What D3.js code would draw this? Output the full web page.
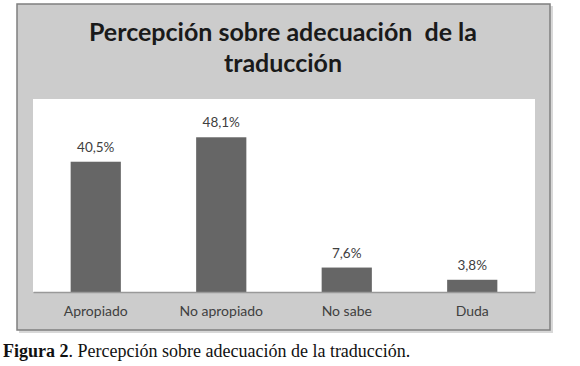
<!DOCTYPE html>
<html>
<head>
<meta charset="utf-8">
<script src="https://cdn.jsdelivr.net/npm/d3@7"></script>
<style>
  body { margin: 0; background: #fff; }
  svg { display: block; }
</style>
</head>
<body>
<div id="chart_area"></div>
<script>
var categories = ["Apropiado", "No apropiado", "No sabe", "Duda"];
var values = [40.5, 48.1, 7.6, 3.8];
var valueLabels = ["40,5%", "48,1%", "7,6%", "3,8%"];
var titleLines = ["Percepción sobre adecuación  de la", "traducción"];

var W = 580, H = 366;
var plot = { left: 33, right: 535, top: 99, bottom: 292 };

var svg = d3.select("#chart_area")
    .append("svg")
    .attr("width", W)
    .attr("height", H);

// shadow + outer box
svg.append("rect")
    .attr("x", 19).attr("y", 6)
    .attr("width", 534).attr("height", 327)
    .attr("fill", "#d8d8d8");
svg.append("rect")
    .attr("x", 17).attr("y", 4)
    .attr("width", 533).attr("height", 326)
    .attr("fill", "#cccccc")
    .attr("stroke", "#7f7f7f")
    .attr("stroke-width", 1.5);

// plot area
svg.append("rect")
    .attr("x", plot.left).attr("y", plot.top)
    .attr("width", plot.right - plot.left)
    .attr("height", plot.bottom - plot.top)
    .attr("fill", "#ffffff");

// title
svg.selectAll(".title")
    .data(titleLines)
    .enter()
    .append("text")
    .attr("class", "title")
    .attr("x", 283)
    .attr("y", function (d, i) { return 41 + i * 31; })
    .attr("text-anchor", "middle")
    .style("font-family", "Lato, 'Open Sans', sans-serif")
    .style("font-weight", "bold")
    .style("font-size", "25px")
    .style("fill", "#1a1a1a")
    .style("white-space", "pre")
    .text(function (d) { return d; });

var x = d3.scaleBand()
    .range([plot.left, plot.right])
    .domain(categories)
    .paddingInner(0.6)
    .paddingOuter(0.3);

var y = d3.scaleLinear()
    .domain([0, 60])
    .range([plot.bottom, plot.top]);

// bars
svg.selectAll(".bar")
    .data(values)
    .enter()
    .append("rect")
    .attr("class", "bar")
    .attr("x", function (d, i) { return x(categories[i]); })
    .attr("y", function (d) { return y(d); })
    .attr("width", x.bandwidth())
    .attr("height", function (d) { return y(0) - y(d); })
    .attr("fill", "#666666");

// value labels
svg.selectAll(".vlabel")
    .data(values)
    .enter()
    .append("text")
    .attr("class", "vlabel")
    .attr("x", function (d, i) { return x(categories[i]) + x.bandwidth() / 2; })
    .attr("y", function (d) { return y(d) - 10; })
    .attr("text-anchor", "middle")
    .style("font-family", "Lato, 'Open Sans', sans-serif")
    .style("font-size", "13.5px")
    .style("fill", "#404040")
    .text(function (d, i) { return valueLabels[i]; });

// x axis
var xAxis = svg.append("g")
    .attr("transform", "translate(0," + plot.bottom + ")")
    .call(d3.axisBottom(x).tickSize(0).tickPadding(14));
xAxis.select(".domain").attr("stroke", "#999999").attr("stroke-width", 1.5);
xAxis.selectAll("text")
    .style("font-family", "Lato, 'Open Sans', sans-serif")
    .style("font-size", "14px")
    .style("fill", "#404040");

// caption
var cap = svg.append("text")
    .attr("x", 3)
    .attr("y", 357)
    .style("font-family", "'Liberation Serif', 'DejaVu Serif', serif")
    .style("font-size", "18px")
    .style("fill", "#111");
cap.append("tspan").style("font-weight", "bold").text("Figura 2");
cap.append("tspan").text(". Percepción sobre adecuación de la traducción.");
</script>
</body>
</html>
